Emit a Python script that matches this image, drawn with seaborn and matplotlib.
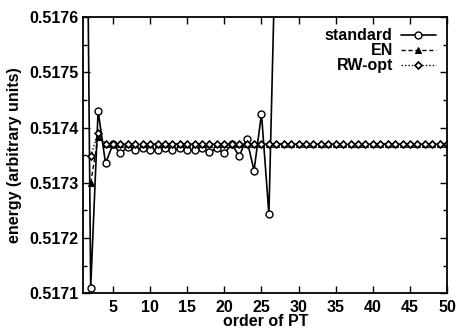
import numpy as np
import pandas as pd
import matplotlib
matplotlib.use("Agg")
import matplotlib.pyplot as plt
from matplotlib.ticker import MultipleLocator, FormatStrFormatter
import seaborn as sns

# ---- data ----
std_order = list(range(1, 29))
std_energy = [0.5186, 0.51711, 0.51743, 0.517335, 0.51737, 0.517353, 0.517365,
              0.51736, 0.517363, 0.51736, 0.51736, 0.517362, 0.51736, 0.517362,
              0.51736, 0.51736, 0.517362, 0.517356, 0.517362, 0.517353, 0.51737,
              0.517348, 0.51738, 0.517322, 0.517425, 0.517243, 0.5178, 0.5186]

en_order = list(range(2, 51))
en_energy = [0.51730, 0.517382] + [0.51737] * 47

rw_order = list(range(2, 51))
rw_energy = [0.517348, 0.51739] + [0.51737] * 47

x_ticks = list(range(5, 51, 5))
y_ticks = [0.5171, 0.5172, 0.5173, 0.5174, 0.5175, 0.5176]

sns.set_theme(style="ticks")
plt.rcParams['font.family'] = ['Liberation Sans', 'DejaVu Sans']
plt.rcParams['font.weight'] = 'bold'
plt.rcParams['text.color'] = 'black'
plt.rcParams['axes.labelcolor'] = 'black'
plt.rcParams['xtick.color'] = 'black'
plt.rcParams['ytick.color'] = 'black'

fig = plt.figure(figsize=(4.6, 3.29), dpi=100)
ax = fig.add_axes([0.181, 0.109, 0.791, 0.839])

df_std = pd.DataFrame({"n": std_order, "E": std_energy})
df_en = pd.DataFrame({"n": en_order, "E": en_energy})
df_rw = pd.DataFrame({"n": rw_order, "E": rw_energy})

sns.lineplot(data=df_std, x="n", y="E", ax=ax, color="black", lw=1.2,
             linestyle="-", marker="o", markersize=5, markerfacecolor="white",
             markeredgecolor="black", markeredgewidth=1.0, label="standard")
sns.lineplot(data=df_en, x="n", y="E", ax=ax, color="black", lw=1.0,
             linestyle=(0, (3, 2)), marker="^", markersize=5,
             markerfacecolor="black", markeredgecolor="black",
             markeredgewidth=0.8, label="EN")
sns.lineplot(data=df_rw, x="n", y="E", ax=ax, color="black", lw=1.0,
             linestyle=(0, (1, 1.5)), marker="D", markersize=3.5,
             markerfacecolor="white", markeredgecolor="black",
             markeredgewidth=1.2, label="RW-opt")

ax.set_xlim(1, 50)
ax.set_ylim(0.5171, 0.5176)
ax.set_xticks(x_ticks)
ax.set_yticks(y_ticks)
ax.yaxis.set_major_formatter(FormatStrFormatter('%.4f'))
ax.yaxis.set_minor_locator(MultipleLocator(0.00005))
ax.tick_params(axis='both', which='both', direction='in', top=True, right=True,
               labelsize=11.5, colors='black')
ax.tick_params(axis='both', which='major', length=5, width=1)
ax.tick_params(axis='both', which='minor', length=3, width=1)
ax.tick_params(axis='x', which='minor', bottom=False, top=False)
ax.tick_params(axis='x', which='major', pad=5)
for lab in ax.get_xticklabels() + ax.get_yticklabels():
    lab.set_fontweight('bold')
for s in ax.spines.values():
    s.set_linewidth(1.3)
    s.set_color('black')

ax.set_xlabel("order of PT", fontsize=11.5, fontweight='bold', labelpad=-1,
              color='black')
ax.set_ylabel("energy (arbitrary units)", fontsize=11.5, fontweight='bold',
              labelpad=5, color='black')

leg = ax.legend(loc="upper right", frameon=False, markerfirst=False,
                handlelength=2.2, handletextpad=0.5, labelspacing=0.0,
                borderaxespad=0.3, fontsize=11.5)
for t in leg.get_texts():
    t.set_fontweight('bold')
    t.set_ha('right')
    t.set_color('black')
leg._legend_box.align = "right"

fig.savefig("out.png", dpi=100)
